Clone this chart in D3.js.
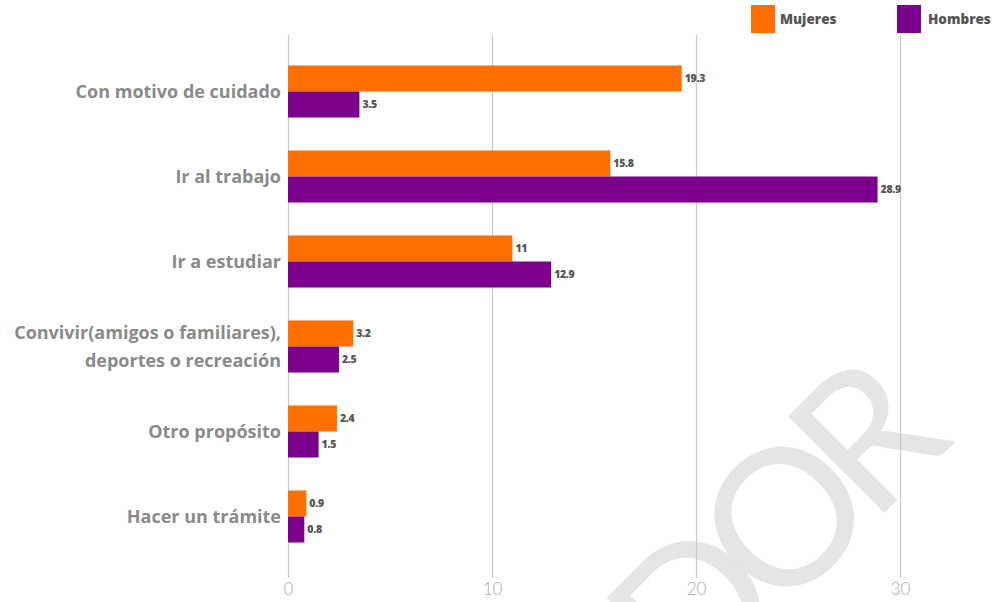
<!DOCTYPE html>
<html><head><meta charset="utf-8">
<script src="https://cdn.jsdelivr.net/npm/d3@7"></script>
<style>body{margin:0;background:#fff}svg{display:block}</style>
</head><body>
<svg id="c" width="1003" height="602"></svg>
<script>
const categories = [["Con motivo de cuidado"],["Ir al trabajo"],["Ir a estudiar"],["Convivir(amigos o familiares),","deportes o recreación"],["Otro propósito"],["Hacer un trámite"]];
const mujeres = [19.3, 15.8, 11, 3.2, 2.4, 0.9];
const hombres = [3.5, 28.9, 12.9, 2.5, 1.5, 0.8];
const seriesNames = ["Mujeres","Hombres"];
const xTicks = [0, 10, 20, 30];

const colors = ["#ff6e00", "#7b008b"];
const FONT = "'Open Sans', sans-serif";
const svg = d3.select("#c");
const x = d3.scaleLinear().domain([0, 30]).range([288, 900]);
const y = d3.scaleBand().domain(d3.range(categories.length)).range([49, 559]).paddingInner(0.388).paddingOuter(0.194);
const sub = d3.scaleBand().domain([0,1]).range([0, y.bandwidth()]);

// watermark
svg.append("text").attr("transform","translate(942,455) rotate(-45)")
  .attr("text-anchor","end").attr("font-family","Lato, sans-serif").attr("font-size",190)
  .attr("letter-spacing",-20)
  .attr("fill","#e5e5e5").text("BORRADOR");

// grid
const gx = svg.append("g").attr("transform","translate(0,578)")
  .call(d3.axisBottom(x).tickValues(xTicks).tickSize(-543).tickFormat(d3.format("d")));
gx.select(".domain").remove();
gx.selectAll(".tick line").attr("stroke","#c8c8c8").attr("stroke-width",1.2);
gx.selectAll(".tick text").attr("fill","#aaa").attr("font-family","Lato, sans-serif").attr("font-weight",300)
  .attr("font-size",17).attr("dy","0.95em").attr("y",1);

const data = categories.map((c,i)=>({i, vals:[mujeres[i], hombres[i]]}));
const g = svg.append("g").selectAll("g").data(data).join("g").attr("transform",d=>`translate(0,${y(d.i)})`);
g.selectAll("rect").data(d=>d.vals.map((v,k)=>({v,k}))).join("rect")
  .attr("x", x(0)).attr("y", d=>sub(d.k)).attr("width", d=>x(d.v)-x(0)).attr("height", sub.bandwidth())
  .attr("fill", d=>colors[d.k]);
g.selectAll("text.v").data(d=>d.vals.map((v,k)=>({v,k}))).join("text").attr("class","v")
  .attr("x", d=>x(d.v)+3).attr("y", d=>sub(d.k)+sub.bandwidth()/2).attr("dy","0.35em")
  .attr("font-family",FONT).attr("font-weight",800).attr("font-size",10.5).attr("fill","#555")
  .attr("letter-spacing",-0.3)
  .text(d=>d.v);

// category labels
const lab = svg.append("g").selectAll("text").data(categories).join("text")
  .attr("x", 281).attr("y",(d,i)=>y(i)+y.bandwidth()/2)
  .attr("text-anchor","end").attr("font-family",FONT).attr("font-weight",700)
  .attr("font-size",18).attr("fill","#8a8a8a");
lab.each(function(d){
  const t = d3.select(this);
  const n = d.length;
  d.forEach((line,j)=>{
    t.append("tspan").attr("x",281).attr("dy", j===0 ? `${0.35 - (n-1)*0.78}em` : "1.56em").text(line);
  });
});

// legend
const legX = [751, 897], legT = [780, 928];
const leg = svg.append("g").selectAll("g").data(seriesNames).join("g");
leg.append("rect").attr("x",(d,i)=>legX[i]).attr("y",5).attr("width",24).attr("height",28).attr("fill",(d,i)=>colors[i]);
leg.append("text").attr("x",(d,i)=>legT[i]).attr("y",19).attr("dy","0.35em")
  .attr("font-family",FONT).attr("font-weight",800).attr("font-size",13.5).attr("fill","#555").text(d=>d);
</script>
</body></html>
